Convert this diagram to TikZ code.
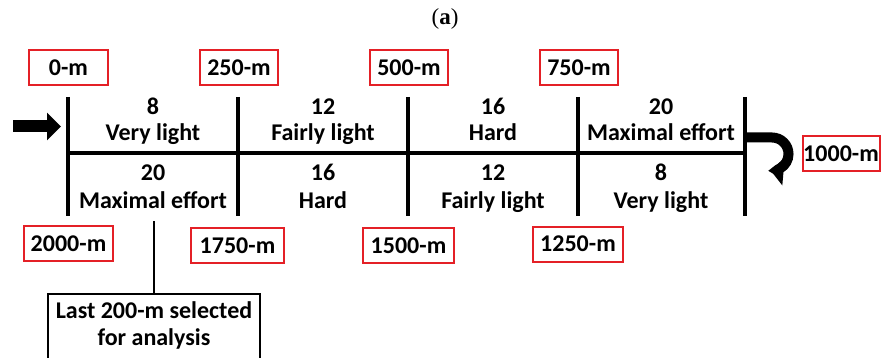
\documentclass[tikz,border=0pt]{standalone}
\usepackage{fontspec}
\setmainfont{Carlito}
\newfontfamily\serifa{Liberation Serif}
\usetikzlibrary{arrows.meta}
\definecolor{boxred}{RGB}{228,32,38}
\begin{document}
\begin{tikzpicture}[x=1pt,y=-1pt,
  lbl/.style={font=\fontsize{24}{28}\selectfont\bfseries, inner sep=0pt, anchor=base},
  redbox/.style={draw=boxred, line width=2pt, font=\fontsize{24}{28}\selectfont\bfseries, minimum height=35pt, inner sep=0pt},
  tick/.style={line width=4pt},
  titlestyle/.style={font=\serifa\fontsize{23}{27}\selectfont, inner sep=0pt},
]
\useasboundingbox (0,0) rectangle (891,358);
\node[titlestyle] (title) at (445,19) {(\textbf{a})};

% tick and track coordinates
\foreach \n/\x in {0/68,1/238,2/408,3/578,4/745}{
  \coordinate (t\n) at (\x,97);
  \coordinate (b\n) at (\x,216);
  \coordinate (m\n) at (\x,153);
}
\foreach \n in {0,...,4}{ \draw[tick] (t\n) -- (b\n); }
\draw[tick] ([xshift=-2pt]m0) -- ([xshift=2pt]m4);

% direction arrows
\coordinate (inS) at (13,126.5);
\coordinate (inE) at (61,126.5);
\draw[line width=12pt, -{Triangle[length=14pt,width=27pt]}] (inS) -- (inE);
\coordinate (uS) at (745,137.5);
\draw[line width=10pt, -{Triangle[length=13pt,width=27pt]}] (uS) -- (772,137.5) arc[start angle=-90, end angle=95, radius=16.5];

% distance boxes
\node[redbox, minimum width=79pt] (r0) at (68.5,67.5) {0-m};
\node[redbox, minimum width=78pt] (r250) at (239,68) {250-m};
\node[redbox, minimum width=78pt] (r500) at (409,68) {500-m};
\node[redbox, minimum width=78pt] (r750) at (579,67.5) {750-m};
\node[redbox, minimum width=77pt] (r1000) at (841,153.5) {1000-m};
\node[redbox, minimum width=89pt] (r2000) at (68.5,243.5) {2000-m};
\node[redbox, minimum width=93pt] (r1750) at (237.5,245.5) {1750-m};
\node[redbox, minimum width=91pt] (r1500) at (408.5,245.5) {1500-m};
\node[redbox, minimum width=90pt] (r1250) at (578,244) {1250-m};

% segment labels, outbound
\node[lbl] (n1) at (153,115) {8};
\node[lbl] (l1) at (153,141) {Very light};
\node[lbl] (n2) at (323,115) {12};
\node[lbl] (l2) at (323,141) {Fairly light};
\node[lbl] (n3) at (493,115) {16};
\node[lbl] (l3) at (493,141) {Hard};
\node[lbl] (n4) at (661,115) {20};
\node[lbl] (l4) at (661,141) {Maximal effort};
% return
\node[lbl] (n5) at (153,181) {20};
\node[lbl] (l5) at (153,208) {Maximal effort};
\node[lbl] (n6) at (323,181) {16};
\node[lbl] (l6) at (323,208) {Hard};
\node[lbl] (n7) at (493,181) {12};
\node[lbl] (l7) at (493,208) {Fairly light};
\node[lbl] (n8) at (661,181) {8};
\node[lbl] (l8) at (661,208) {Very light};

% analysis box
\node[draw, line width=2pt, minimum width=212pt, minimum height=80pt, anchor=north, inner sep=0pt] (an) at (154,293) {};
\node[lbl] (an1) at (154,318) {Last 200-m selected};
\node[lbl] (an2) at (154,345) {for analysis};
\coordinate (sel) at (154,221);
\draw[line width=2.5pt] (sel) -- (an.north);
\end{tikzpicture}
\end{document}
